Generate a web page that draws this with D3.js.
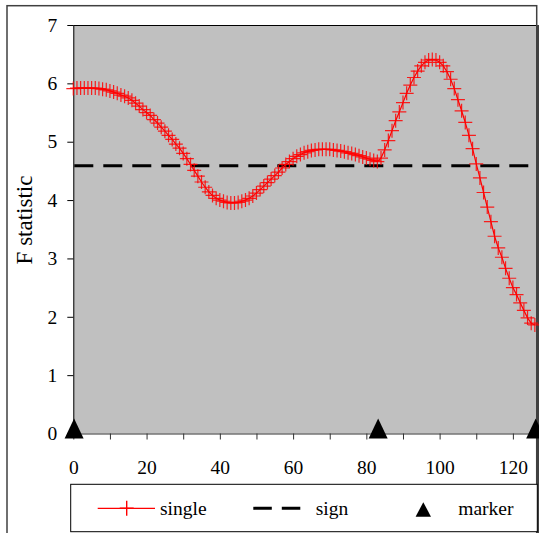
<!DOCTYPE html>
<html>
<head>
<meta charset="utf-8">
<script src="https://cdn.jsdelivr.net/npm/d3@7/dist/d3.min.js"></script>
<style>
  html, body { margin: 0; padding: 0; background: #fff; }
  svg { display: block; }
</style>
</head>
<body>
<svg id="chart" width="539" height="533"></svg>
<script>
// ---- data ----
const fStat = [
  5.91, 5.92, 5.92, 5.92, 5.92, 5.92, 5.92, 5.91, 5.90, 5.89,
  5.87, 5.85, 5.83, 5.80, 5.78, 5.75, 5.71, 5.66, 5.61, 5.55,
  5.50, 5.45, 5.38, 5.32, 5.25, 5.18, 5.11, 5.04, 4.96, 4.89,
  4.80, 4.71, 4.61, 4.51, 4.41, 4.31, 4.22, 4.14, 4.08, 4.03,
  4.00, 3.98, 3.96, 3.95, 3.95, 3.96, 3.98, 4.00, 4.03, 4.07,
  4.12, 4.18, 4.24, 4.30, 4.36, 4.42, 4.48, 4.55, 4.61, 4.66,
  4.71, 4.75, 4.78, 4.81, 4.83, 4.85, 4.86, 4.87, 4.87, 4.87,
  4.87, 4.86, 4.85, 4.84, 4.83, 4.81, 4.80, 4.78, 4.76, 4.74,
  4.72, 4.70, 4.68, 4.66, 4.72, 4.86, 5.02, 5.19, 5.36, 5.51,
  5.67, 5.83, 5.97, 6.10, 6.21, 6.30, 6.36, 6.40, 6.41, 6.40,
  6.36, 6.30, 6.20, 6.07, 5.91, 5.72, 5.53, 5.33, 5.11, 4.88,
  4.62, 4.38, 4.13, 3.88, 3.63, 3.38, 3.18, 3.02, 2.83, 2.66,
  2.50, 2.38, 2.24, 2.11, 1.98, 1.89, 1.86
];
const signLevel = 4.59;
const markerX = [0, 83, 126];
const yTickValues = [0, 1, 2, 3, 4, 5, 6, 7];
const xTickValues = [0, 10, 20, 30, 40, 50, 60, 70, 80, 90, 100, 110, 120];
const xLabelValues = [0, 20, 40, 60, 80, 100, 120];
const seriesNames = ["single", "sign", "marker"];
const yTitle = "F statistic";

// ---- layout ----
const FONT = "'Liberation Serif', 'Times New Roman', serif";
const svg = d3.select("#chart");
const L = 73.3, R = 536.7, T = 25, B = 433.5;
const FS = 19.5;

const x = d3.scaleLinear().domain([0, 126.5]).range([L, R]);
const y = d3.scaleLinear().domain([0, 7]).range([B, T]);

// chart outer border
svg.append("rect").attr("x", 7).attr("y", 5.7).attr("width", 529.7).attr("height", 540)
  .attr("fill", "#fff").attr("stroke", "#404040").attr("stroke-width", 1.5);

// plot area
svg.append("rect").attr("x", L).attr("y", T).attr("width", R - L).attr("height", B - T)
  .attr("fill", "#C0C0C0");
svg.append("line").attr("x1", L).attr("x2", R).attr("y1", T + 0.5).attr("y2", T + 0.5)
  .attr("stroke", "#000").attr("stroke-width", 1);
// right dark edge
svg.append("rect").attr("x", 536).attr("y", T).attr("width", 3).attr("height", 533 - T)
  .attr("fill", "#404040");

// y axis
const yAxis = d3.axisLeft(y).tickValues(yTickValues).tickSize(6).tickSizeOuter(0).tickPadding(10)
  .tickFormat(d3.format("d"));
const gy = svg.append("g").attr("transform", `translate(${L},0)`).call(yAxis);
gy.attr("font-family", null).attr("font-size", null);
gy.selectAll("text").style("font-size", FS + "px").style("font-family", FONT).attr("fill", "#000");
gy.select(".domain").attr("stroke", "#000");

// x axis
const xAxis = d3.axisBottom(x).tickValues(xTickValues).tickSize(6).tickSizeOuter(0).tickPadding(21)
  .tickFormat(d => xLabelValues.includes(d) ? d : "");
const gx = svg.append("g").attr("transform", `translate(0,${B})`).call(xAxis);
gx.attr("font-family", null).attr("font-size", null);
gx.selectAll("text").style("font-size", FS + "px").style("font-family", FONT).attr("fill", "#000");
gx.select(".domain").attr("stroke", "#303030");
gx.selectAll(".tick line").attr("stroke", "#303030");

// y title
svg.append("text")
  .attr("transform", "translate(32,220) rotate(-90)")
  .attr("text-anchor", "middle")
  .style("font-size", "23px").style("font-family", FONT)
  .text(yTitle);

// clip for plot series
svg.append("clipPath").attr("id", "plotclip").append("rect")
  .attr("x", L).attr("y", T).attr("width", R - L).attr("height", B - T);

// sign dashed line
svg.append("line")
  .attr("clip-path", "url(#plotclip)")
  .attr("x1", x(0) + 1).attr("x2", x(fStat.length - 1) + 4)
  .attr("y1", y(signLevel)).attr("y2", y(signLevel))
  .attr("stroke", "#000").attr("stroke-width", 3).attr("stroke-dasharray", "19,10");

// single series
const line = d3.line().x((d, i) => x(i)).y(d => y(d));
svg.append("path").datum(fStat)
  .attr("d", line).attr("fill", "none").attr("stroke", "#FF0000").attr("stroke-width", 1.2);

const plusHalf = 7;
svg.append("g").selectAll("path").data(fStat).join("path")
  .attr("d", (d, i) => {
    const cx = x(i), cy = y(d);
    return `M${cx - plusHalf},${cy}H${cx + plusHalf}M${cx},${cy - plusHalf}V${cy + plusHalf}`;
  })
  .attr("stroke", "#FF0000").attr("stroke-width", 1.2).attr("stroke-opacity", 0.85).attr("fill", "none");

// markers (triangles)
function tri(cx, cy, w, h) {
  return `M${cx},${cy - h * 0.75}L${cx + w / 2},${cy + h * 0.25}L${cx - w / 2},${cy + h * 0.25}Z`;
}
svg.append("g").selectAll("path").data(markerX).join("path")
  .attr("d", d => tri(x(d) + 0.8, y(0), 19, 20))
  .attr("fill", "#000");

// legend
const lg = svg.append("g");
lg.append("rect").attr("x", 70.7).attr("y", 484.3).attr("width", 466.6).attr("height", 47.4)
  .attr("fill", "#fff").attr("stroke", "#000").attr("stroke-width", 1);
const ly = 508.3, lBase = 515;
lg.append("line").attr("x1", 97.7).attr("x2", 155).attr("y1", ly).attr("y2", ly)
  .attr("stroke", "#FF0000").attr("stroke-width", 1.2);
lg.append("path").attr("d", `M${126.7 - 7},${ly}H${126.7 + 7}M126.7,${ly - 7.5}V${ly + 7.5}`)
  .attr("stroke", "#FF0000").attr("stroke-width", 1.4);
lg.append("text").attr("x", 160).attr("y", lBase).style("font-size", FS + "px").style("font-family", FONT).text(seriesNames[0]);

lg.append("line").attr("x1", 253.3).attr("x2", 301).attr("y1", ly).attr("y2", ly)
  .attr("stroke", "#000").attr("stroke-width", 3).attr("stroke-dasharray", "18.5,10");
lg.append("text").attr("x", 315.7).attr("y", lBase).style("font-size", FS + "px").style("font-family", FONT).text(seriesNames[1]);

lg.append("path").attr("d", `M423.3,502.3L431,516.7L415.6,516.7Z`).attr("fill", "#000");
lg.append("text").attr("x", 458.3).attr("y", lBase).style("font-size", FS + "px").style("font-family", FONT).text(seriesNames[2]);
</script>
</body>
</html>
